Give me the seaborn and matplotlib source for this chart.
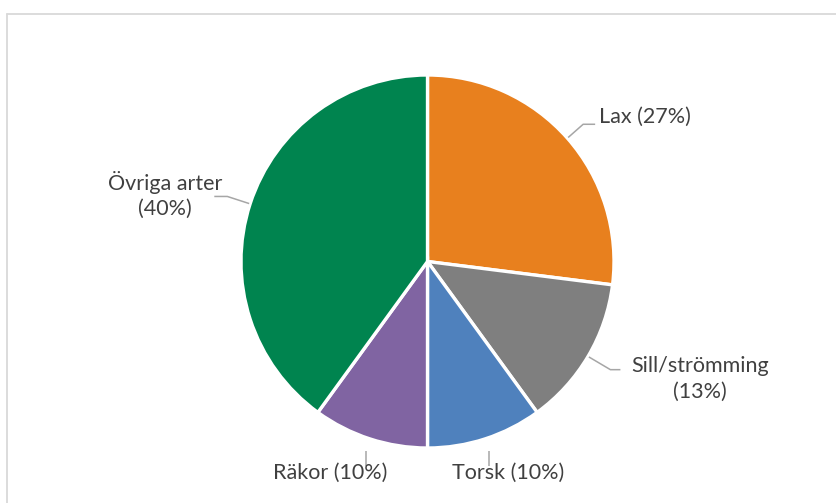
import numpy as np
import matplotlib
matplotlib.use("Agg")
import matplotlib.pyplot as plt
from matplotlib.lines import Line2D
import seaborn as sns

# Catch composition by species (share of value, %)
species = ["Lax", "Sill/strömming", "Torsk", "Räkor", "Övriga arter"]
shares = [27, 13, 10, 10, 40]
label_texts = ["Lax (27%)", "Sill/strömming\n(13%)", "Torsk (10%)", "Räkor (10%)", "Övriga arter\n(40%)"]
slice_colors = ["#E8801E", "#7F7F7F", "#4F81BD", "#8064A2", "#00844F"]

sns.set_theme(style="white")
plt.rcParams["font.family"] = ["Lato", "DejaVu Sans"]

W, H = 837, 503
fig = plt.figure(figsize=(W / 100, H / 100), dpi=100)
ax = fig.add_axes([0, 0, 1, 1])

cx, cy, r = 427.5, 241.5, 186.5
palette = sns.color_palette(slice_colors)
wedges, _ = ax.pie(shares, colors=palette, startangle=90, counterclock=False,
                   center=(cx, cy), radius=r, frame=True,
                   wedgeprops=dict(edgecolor="white", linewidth=2.4))
ax.set_xlim(0, W)
ax.set_ylim(0, H)
ax.set_aspect("equal")
ax.axis("off")

text_color = "#404040"
lead_color = "#A6A6A6"
fs = 15.5

# leader lines derived from each wedge's mid-angle
mids = [np.deg2rad((w.theta1 + w.theta2) / 2) for w in wedges]

def on_circle(a, rad):
    return cx + rad * np.cos(a), cy + rad * np.sin(a)

# Lax: diagonal then horizontal to the right
x0, y0 = on_circle(mids[0], r + 1)
x1, y1 = on_circle(mids[0], r + 21)
ax.plot([x0, x1, x1 + 12], [y0, y1, y1], color=lead_color, lw=1.1, solid_capstyle="butt")
ax.text(x1 + 16, y1 + 7, label_texts[0], ha="left", va="center", fontsize=fs, color=text_color)

# Sill/strömming: diagonal then horizontal to the right
x0, y0 = on_circle(mids[1], r + 1)
x1, y1 = on_circle(mids[1], r + 26)
ax.plot([x0, x1, x1 + 10], [y0, y1, y1], color=lead_color, lw=1.1, solid_capstyle="butt")
ax.text(700, 124, label_texts[1], ha="center", va="center", fontsize=fs,
        color=text_color, linespacing=1.35)

# Torsk and Räkor: short vertical leaders below the pie
for i, tx in [(2, 508), (3, 330)]:
    x0, y0 = on_circle(mids[i], r + 13)
    ax.plot([x0, x0], [y0, y0 - 15], color=lead_color, lw=1.1, solid_capstyle="butt")
    ax.text(tx, 30, label_texts[i], ha="center", va="center", fontsize=fs, color=text_color)

# Övriga arter: diagonal then horizontal to the left
x0, y0 = on_circle(mids[4], r + 1)
x1, y1 = on_circle(mids[4], r + 24)
ax.plot([x0, x1, x1 - 13], [y0, y1, y1], color=lead_color, lw=1.1, solid_capstyle="butt")
ax.text(165, 308, label_texts[4], ha="center", va="center", fontsize=fs,
        color=text_color, linespacing=1.35)

# chart frame (left and top edges)
fig.add_artist(Line2D([7.5 / W, 7.5 / W], [0, 1 - 13.5 / H], transform=fig.transFigure,
                      color="#D9D9D9", lw=1.3))
fig.add_artist(Line2D([7.5 / W, 1], [1 - 13.5 / H, 1 - 13.5 / H], transform=fig.transFigure,
                      color="#D9D9D9", lw=1.3))

fig.savefig("out.png", dpi=100, facecolor="white")
